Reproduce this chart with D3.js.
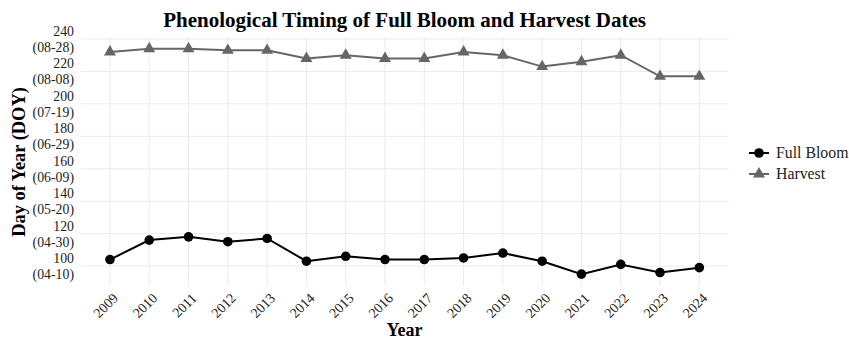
<!DOCTYPE html>
<html><head><meta charset="utf-8">
<script src="https://cdn.jsdelivr.net/npm/d3@7"></script>
<style>body{margin:0;background:#fff}svg{display:block}text{font-family:"Liberation Serif","Times New Roman",serif}</style>
</head><body><svg id="c" width="849" height="340"></svg>
<script>
const years = [2009,2010,2011,2012,2013,2014,2015,2016,2017,2018,2019,2020,2021,2022,2023,2024];
const fullBloom = [104,116,118,115,117,103,106,104,104,105,108,103,95,101,96,99];
const harvest = [232,234,234,233,233,228,230,228,228,232,230,223,226,230,217,217];
const yTicks = [100,120,140,160,180,200,220,240];
const yTickDates = ["(04-10)","(04-30)","(05-20)","(06-09)","(06-29)","(07-19)","(08-08)","(08-28)"];
const seriesNames = ["Full Bloom","Harvest"];
const seriesColors = ["#000000","#666666"];

const svg = d3.select("#c");
const x = d3.scaleLinear().domain([2008.25,2024.75]).range([80.5,728.8]);
const y = d3.scaleLinear().domain([88,241]).range([285.5,37.4]);

// grid
svg.append("g").selectAll("line").data(years).join("line")
  .attr("x1",d=>x(d)).attr("x2",d=>x(d)).attr("y1",y.range()[0]).attr("y2",y.range()[1])
  .attr("stroke","#ebebeb").attr("stroke-width",1);
svg.append("g").selectAll("line").data(yTicks).join("line")
  .attr("x1",x.range()[0]).attr("x2",x.range()[1]).attr("y1",d=>y(d)).attr("y2",d=>y(d))
  .attr("stroke","#ebebeb").attr("stroke-width",1);

// y axis labels
const yl = svg.append("g").selectAll("text").data(yTicks).join("text")
  .attr("text-anchor","end").attr("font-size",13.8).attr("fill","#222");
yl.append("tspan").attr("x",74).attr("y",d=>y(d)-3).text(d=>d);
yl.append("tspan").attr("x",74).attr("y",d=>y(d)+13).text((d,i)=>yTickDates[i]);

// x axis labels
svg.append("g").selectAll("text").data(years).join("text")
  .attr("text-anchor","end").attr("font-size",14).attr("fill","#222")
  .attr("transform",d=>`translate(${x(d)+2},${292}) rotate(-45)`)
  .attr("dy","0.7em").text(d=>d);

// series
const data = [fullBloom, harvest];
const line = d3.line().x((d,i)=>x(years[i])).y(d=>y(d));
data.forEach((s,k)=>{
  svg.append("path").datum(s).attr("d",line).attr("fill","none")
    .attr("stroke",seriesColors[k]).attr("stroke-width",2);
});
svg.append("g").selectAll("circle").data(fullBloom).join("circle")
  .attr("cx",(d,i)=>x(years[i])).attr("cy",d=>y(d)).attr("r",4.8).attr("fill",seriesColors[0]);
const tri = d3.symbol().type(d3.symbolTriangle).size(62);
svg.append("g").selectAll("path").data(harvest).join("path")
  .attr("d",tri).attr("transform",(d,i)=>`translate(${x(years[i])},${y(d)})`).attr("fill",seriesColors[1]);

// titles
svg.append("text").attr("x",404.6).attr("y",27).attr("text-anchor","middle")
  .attr("font-size",21).attr("font-weight","bold").attr("fill","#000")
  .text("Phenological Timing of Full Bloom and Harvest Dates");
svg.append("text").attr("transform","translate(25,162) rotate(-90)").attr("text-anchor","middle")
  .attr("font-size",18.4).attr("font-weight","bold").attr("fill","#000").text("Day of Year (DOY)");
svg.append("text").attr("x",404.6).attr("y",336).attr("text-anchor","middle")
  .attr("font-size",18).attr("font-weight","bold").attr("fill","#000").text("Year");

// legend
const lg = svg.append("g");
seriesNames.forEach((n,k)=>{
  const yy = 153 + k*21;
  lg.append("line").attr("x1",749).attr("x2",769).attr("y1",yy).attr("y2",yy)
    .attr("stroke",seriesColors[k]).attr("stroke-width",2);
  if(k===0) lg.append("circle").attr("cx",759).attr("cy",yy).attr("r",4.8).attr("fill",seriesColors[k]);
  else lg.append("path").attr("d",tri).attr("transform",`translate(759,${yy})`).attr("fill",seriesColors[k]);
  lg.append("text").attr("x",776).attr("y",yy+5).attr("font-size",15.8).attr("fill","#222").text(n);
});
</script></body></html>
